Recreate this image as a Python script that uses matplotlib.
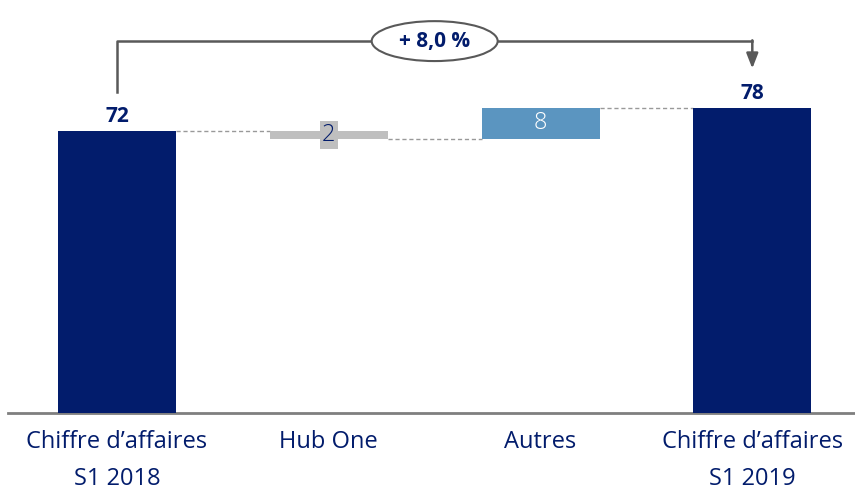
import matplotlib
matplotlib.use("Agg")
import matplotlib.pyplot as plt
from matplotlib.patches import Ellipse

categories = ["Chiffre d\u2019affaires\nS1 2018", "Hub One", "Autres", "Chiffre d\u2019affaires\nS1 2019"]
start_value = 72
deltas = [-2, 8]
delta_labels = ["2", "8"]
end_value = 78
growth_label = "+ 8,0 %"

NAVY = "#021C6C"
GREY = "#BFBFBF"
BLUE = "#5B95C0"
font = ["Open Sans", "DejaVu Sans"]
plt.rcParams["font.family"] = font

fig = plt.figure(figsize=(8.55, 4.91), dpi=100)
ax = fig.add_axes([8/855, 78/491, 847/855, 413/491])
ax.set_xlim(-0.515, 3.485)
ax.set_ylim(0, 105.5)

w = 0.557
ax.bar(0, start_value, width=w, color=NAVY, zorder=3)
level = start_value
levels = [start_value]
cols = [GREY, BLUE]
for i, (d, lab, c) in enumerate(zip(deltas, delta_labels, cols), start=1):
    bottom = min(level, level + d)
    ax.bar(i, abs(d), bottom=bottom, width=w, color=c, zorder=3)
    mid = bottom + abs(d) / 2
    if d < 0:
        ax.text(i, mid, lab, ha="center", va="center", color=NAVY, fontsize=17, zorder=4,
                fontweight="light",
                bbox=dict(boxstyle="square,pad=0.1", fc=GREY, ec="none"))
    else:
        ax.text(i, mid, lab, ha="center", va="center", color="white", fontsize=17, zorder=4,
                fontweight="light")
    level += d
    levels.append(level)
ax.bar(3, end_value, width=w, color=NAVY, zorder=3)

conn = [(0, start_value, 1), (1, levels[1], 2), (2, levels[2], 3)]
for x0, y0, x1 in conn:
    ax.plot([x0 + w/2, x1 - w/2], [y0, y0], ls=(0, (3, 2)), color="#999999", lw=1, zorder=2)

ax.text(0, start_value + 1.0, str(start_value), ha="center", va="bottom", color=NAVY,
        fontsize=15, fontweight="bold")
ax.text(3, end_value + 1.0, str(end_value), ha="center", va="bottom", color=NAVY,
        fontsize=15, fontweight="bold")

ytop = 95.0
ax.plot([0, 0, 3], [82.0, ytop, ytop], color="#595959", lw=1.8, clip_on=False, zorder=5)
ax.annotate("", xy=(3, 88.0), xytext=(3, ytop + 0.2),
            arrowprops=dict(arrowstyle="-|>,head_length=0.9,head_width=0.35", color="#595959", lw=1.8,
                            shrinkA=0, shrinkB=0), annotation_clip=False)
ell = Ellipse((1.5, ytop), width=0.595, height=10.2, fc="white", ec="#595959", lw=1.5, zorder=6, clip_on=False)
ax.add_patch(ell)
ax.text(1.5, ytop, growth_label, ha="center", va="center", color=NAVY, fontsize=15,
        fontweight="bold", zorder=7)

for s in ["top", "right", "left"]:
    ax.spines[s].set_visible(False)
ax.spines["bottom"].set_color("#7F7F7F")
ax.spines["bottom"].set_linewidth(2)
ax.set_yticks([])
ax.set_xticks(range(4))
ax.set_xticklabels(categories, color=NAVY, fontsize=17, linespacing=1.72)
ax.tick_params(axis="x", length=0, pad=12)

fig.savefig("out.png", dpi=100)
